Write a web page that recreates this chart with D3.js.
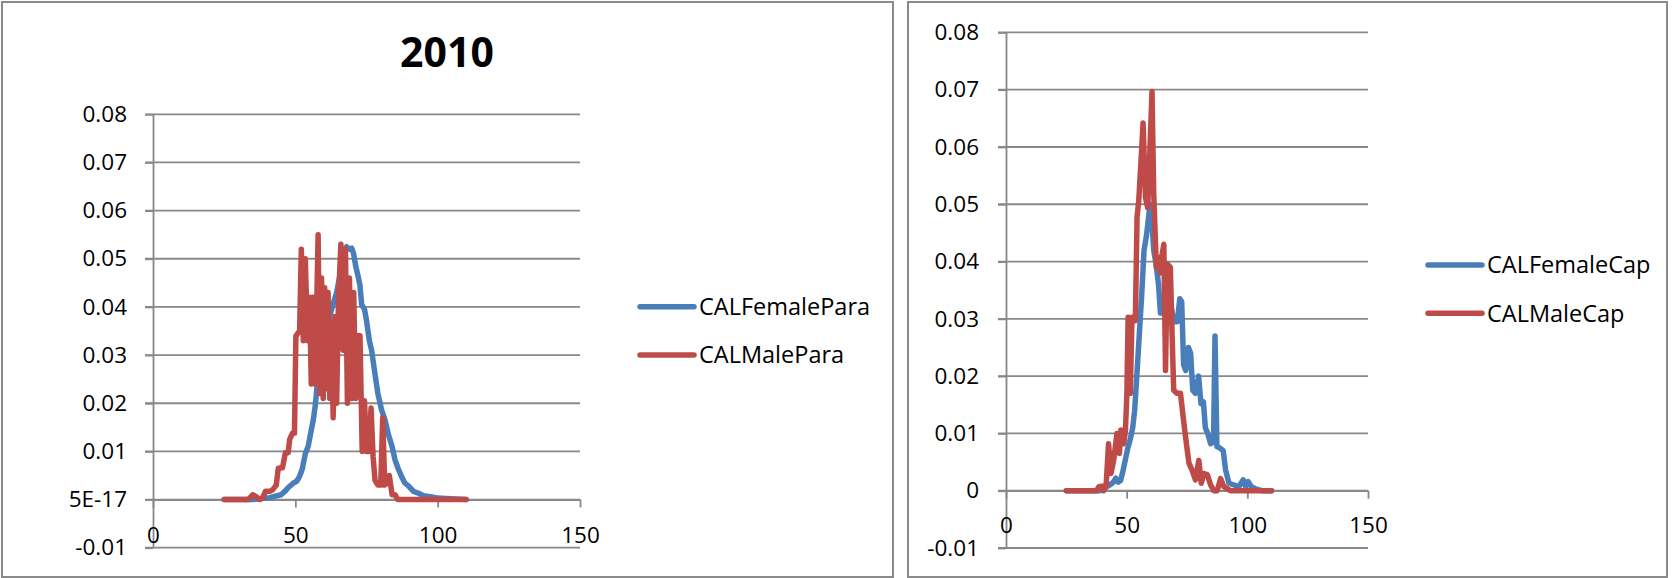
<!DOCTYPE html>
<html><head><meta charset="utf-8">
<script src="https://cdn.jsdelivr.net/npm/d3@7"></script>
<style>body{margin:0;background:#fff} svg{display:block}</style>
</head><body>
<svg id="c" width="1675" height="578"></svg>
<script>
// ---------- data ----------
const chartTitle = "2010";
const xTickValues = [0, 50, 100, 150];
const xTickLabels = ["0", "50", "100", "150"];
const yTickValues = [-0.01, 0, 0.01, 0.02, 0.03, 0.04, 0.05, 0.06, 0.07, 0.08];
const yTickLabelsLeft = ["-0.01", "5E-17", "0.01", "0.02", "0.03", "0.04", "0.05", "0.06", "0.07", "0.08"];
const yTickLabelsRight = ["-0.01", "0", "0.01", "0.02", "0.03", "0.04", "0.05", "0.06", "0.07", "0.08"];
const seriesNamesLeft = ["CALFemalePara", "CALMalePara"];
const seriesNamesRight = ["CALFemaleCap", "CALMaleCap"];
const seriesColors = ["#4A7EBB", "#BE4B48"];

// [length, proportion]
const femalePara = [[25,0],[35,0],[38,0.0002],[41,0.0004],[43,0.0007],[45,0.001],[46.5,0.0018],[47.5,0.0025],[48.5,0.003],[49.5,0.0035],[50.5,0.0038],[51.5,0.0048],[52.5,0.0065],[53.5,0.0095],[54.5,0.011],[55.3,0.0135],[56.3,0.0165],[57,0.0195],[57.7,0.024],[58.5,0.029],[59.5,0.032],[60.5,0.035],[61.5,0.037],[62.5,0.039],[63.5,0.041],[64.5,0.043],[65.5,0.046],[66.5,0.049],[67.3,0.052],[68,0.0525],[69,0.052],[69.8,0.0522],[70.5,0.051],[71.2,0.0485],[72,0.0465],[72.7,0.0445],[73.3,0.0405],[74.3,0.0395],[75,0.0372],[76,0.033],[76.8,0.031],[78,0.026],[79,0.022],[80.3,0.0186],[81.5,0.0165],[82.7,0.0135],[84,0.011],[85,0.0083],[86,0.0066],[87.3,0.0048],[88.5,0.0034],[89.8,0.0028],[91.5,0.0017],[93.3,0.0013],[95,0.0008],[97.5,0.0006],[100,0.0003],[103,0.0002],[110,0]];
const malePara = [[25,0],[33.5,0],[35,0.001],[36,0.0007],[37.5,0],[38.5,0.0003],[39.5,0.0017],[41,0.0017],[42,0.002],[43.3,0.003],[44,0.0065],[45.5,0.0066],[46.5,0.0097],[47.5,0.0097],[48,0.0125],[49,0.0138],[49.7,0.0138],[50.2,0.034],[51.5,0.035],[52.1,0.052],[52.8,0.033],[53.5,0.05],[54.3,0.033],[55,0.042],[55.6,0.024],[56.2,0.042],[56.8,0.024],[57.3,0.034],[58,0.055],[58.6,0.022],[59.2,0.046],[59.8,0.021],[60.3,0.044],[60.9,0.023],[61.5,0.043],[62.1,0.021],[62.6,0.037],[63.3,0.017],[63.9,0.038],[64.5,0.02],[65.2,0.042],[66,0.053],[66.8,0.031],[67.6,0.052],[68.3,0.02],[69,0.046],[69.8,0.021],[70.5,0.043],[71.2,0.021],[71.8,0.034],[72.7,0.034],[73.5,0.01],[74.3,0.0205],[75,0.01],[75.8,0.01],[76.6,0.019],[77.3,0.009],[78,0.004],[79,0.003],[80,0.003],[80.7,0.017],[81.4,0.003],[82.3,0.0035],[83,0.005],[84,0.001],[85,0.001],[86,0],[110,0]];
const femaleCap = [[25,0],[39,0],[41,0.0005],[43,0.001],[44.5,0.0015],[45.5,0.0022],[46.5,0.0015],[47.5,0.0018],[48.5,0.0035],[49.5,0.0055],[50.5,0.0075],[51.5,0.009],[52.5,0.011],[53.3,0.014],[54.2,0.02],[55.2,0.027],[56.2,0.034],[57.2,0.042],[58.2,0.0445],[59.7,0.05],[60.5,0.047],[61.2,0.042],[62.2,0.0395],[63.2,0.036],[64,0.031],[65.2,0.031],[66.5,0.032],[67.5,0.0325],[68.5,0.032],[69.5,0.0295],[71,0.0295],[72,0.0335],[72.8,0.033],[73.6,0.022],[74.5,0.021],[75.6,0.025],[76.5,0.024],[77.4,0.0175],[78.5,0.017],[79.8,0.02],[80.8,0.0152],[81.8,0.0155],[82.6,0.011],[83.6,0.01],[84.8,0.0082],[86,0.0085],[86.6,0.027],[87.4,0.0077],[88.8,0.0074],[90,0.007],[91,0.0036],[92.4,0.0013],[94.5,0.001],[96.5,0.0007],[98.3,0.0019],[99.3,0.0007],[100.3,0.0016],[101.7,0.0007],[103.5,0.0003],[106,0],[110,0]];
const maleCap = [[25,0],[37.5,0],[38.5,0.0007],[39.8,0.0008],[40.5,0],[41.5,0.001],[42.5,0.0082],[43.5,0.003],[44.6,0.0053],[46,0.01],[47,0.0065],[47.6,0.0106],[48.8,0.0082],[49.5,0.0106],[50.1,0.017],[50.6,0.0303],[51.5,0.017],[52.2,0.0303],[53.6,0.0297],[54.3,0.0477],[55,0.0506],[56,0.058],[56.8,0.0642],[57.8,0.0512],[58.7,0.0494],[59.6,0.059],[60.5,0.0697],[61.2,0.052],[62.3,0.039],[63.3,0.0407],[64,0.038],[64.6,0.041],[65.4,0.043],[66.1,0.021],[66.8,0.0396],[68.1,0.039],[68.8,0.0274],[69.5,0.0175],[70.9,0.017],[72.3,0.017],[73.4,0.0129],[74.4,0.0094],[75.8,0.0048],[77.1,0.0036],[78.5,0.0019],[79.9,0.0053],[80.9,0.0013],[82,0.003],[83.4,0.0028],[84.8,0.001],[86.1,0],[87.5,0],[88.9,0.0021],[90.3,0.0007],[93,0],[110,0]];

// ---------- drawing ----------
const svg = d3.select("#c");
const FONT = "'Open Sans', sans-serif";
const GRID = "#888888";

function drawChart(cfg) {
  const g = svg.append("g");
  g.append("rect").attr("x", cfg.frame[0]).attr("y", cfg.frame[1])
    .attr("width", cfg.frame[2]).attr("height", cfg.frame[3])
    .attr("fill", "none").attr("stroke", "#8a8a8a").attr("stroke-width", 2);

  const x = d3.scaleLinear().domain([0, 150]).range([cfg.x0, cfg.x1]);
  const y = d3.scaleLinear().domain([-0.01, 0.08]).range([cfg.yb, cfg.yt]);

  // gridlines
  g.append("g").selectAll("line").data(yTickValues).join("line")
    .attr("x1", cfg.x0 - 8).attr("x2", cfg.x1)
    .attr("y1", d => y(d)).attr("y2", d => y(d))
    .attr("stroke", GRID).attr("stroke-width", 1.8);

  // y axis
  const ya = g.append("g").attr("transform", `translate(${cfg.x0},0)`)
    .call(d3.axisLeft(y).tickValues(yTickValues).tickFormat((d, i) => cfg.yLabels[i])
      .tickSizeInner(8).tickSizeOuter(0).tickPadding(cfg.yPad));
  ya.select(".domain").attr("stroke", GRID).attr("stroke-width", 1.8);
  ya.selectAll(".tick line").attr("stroke", GRID).attr("stroke-width", 1.8);
  ya.selectAll("text").attr("font-family", FONT).attr("font-size", 22.5).attr("fill", "#000");

  // x axis at y = 0
  const xa = g.append("g").attr("transform", `translate(0,${y(0)})`)
    .call(d3.axisBottom(x).tickValues(xTickValues).tickFormat((d, i) => xTickLabels[i])
      .tickSizeInner(8).tickSizeOuter(0));
  xa.select(".domain").attr("stroke", GRID).attr("stroke-width", 1.8);
  xa.selectAll(".tick line").attr("stroke", GRID).attr("stroke-width", 1.8);
  xa.selectAll("text").attr("font-family", FONT).attr("font-size", 22.5).attr("fill", "#000")
    .attr("y", cfg.xLabOff).attr("dy", "0.35em");

  // series
  const line = d3.line().x(d => x(d[0])).y(d => y(d[1]));
  cfg.series.forEach((s, i) => {
    g.append("path").datum(s).attr("d", line).attr("fill", "none")
      .attr("stroke", seriesColors[i]).attr("stroke-width", 5.5)
      .attr("stroke-linejoin", "round").attr("stroke-linecap", "round");
  });

  // legend
  cfg.names.forEach((n, i) => {
    const ly = cfg.legY[i];
    g.append("line").attr("x1", cfg.legX).attr("x2", cfg.legX + 54)
      .attr("y1", ly).attr("y2", ly).attr("stroke", seriesColors[i])
      .attr("stroke-width", 5.5).attr("stroke-linecap", "round");
    g.append("text").attr("x", cfg.legX + 59).attr("y", ly).attr("dy", "0.35em")
      .attr("font-family", FONT).attr("font-size", 23.5).attr("fill", "#000").text(n);
  });

  if (cfg.title) {
    g.append("text").attr("x", cfg.title[1]).attr("y", cfg.title[2])
      .attr("text-anchor", "middle").attr("font-family", FONT).attr("font-weight", "bold")
      .attr("font-size", 41).attr("fill", "#000").text(cfg.title[0]);
  }
}

drawChart({
  frame: [2, 2, 891, 575],
  x0: 153, x1: 580, yb: 547.7, yt: 114.3, yPad: 18, xLabOff: 36,
  yLabels: yTickLabelsLeft, series: [femalePara, malePara], names: seriesNamesLeft,
  legX: 640, legY: [306.7, 355], title: [chartTitle, 447, 67]
});
drawChart({
  frame: [908, 2, 759, 575],
  x0: 1006, x1: 1368, yb: 548, yt: 32.4, yPad: 19, xLabOff: 34,
  yLabels: yTickLabelsRight, series: [femaleCap, maleCap], names: seriesNamesRight,
  legX: 1428, legY: [265, 313.3]
});
</script>
</body></html>
